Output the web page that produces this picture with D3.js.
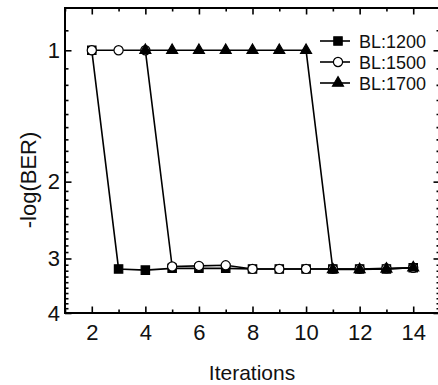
<!DOCTYPE html>
<html><head><meta charset="utf-8">
<script src="https://cdn.jsdelivr.net/npm/d3@7"></script>
<style>
html,body{margin:0;padding:0;background:#fff;}
svg{display:block;font-family:"Liberation Sans",Arial,sans-serif;}
</style></head>
<body>
<svg id="c" width="438" height="385"></svg>
<script>
const iterations = [2,3,4,5,6,7,8,9,10,11,12,13,14];
const bl1200 = [1,3.17,3.19,3.16,3.16,3.16,3.17,3.17,3.17,3.17,3.17,3.17,3.15];
const bl1500 = [1,1,1,3.13,3.12,3.11,3.17,3.17,3.17,3.17,3.17,3.16,3.15];
const iterations1700 = [4,5,6,7,8,9,10,11,12,13,14];
const bl1700 = [1,1,1,1,1,1,1,3.18,3.18,3.17,3.15];
const seriesNames = ["BL:1200","BL:1500","BL:1700"];
const xTicks = [2,4,6,8,10,12,14];
const xMinor = [1,3,5,7,9,11,13,15];
const yTicks = [1,2,3,4];
const yMinor = [0.9,1.1,1.2,1.3,1.4,1.5,1.6,1.7,1.8,1.9,2.1,2.2,2.3,2.4,2.5,2.6,2.7,2.8,2.9,3.1,3.2,3.3,3.4,3.5,3.6,3.7,3.8,3.9];
const xLabel = "Iterations", yLabel = "-log(BER)";

const svg = d3.select("#c");
const L=65, R=440, T=8, B=313;
const x = d3.scaleLinear().domain([1,15]).range([L,R]);
const y = d3.scaleLog().domain([0.8,4]).range([T,B]);

const fontTick = 22;
// minor ticks
function axisG(axis, tr){ return svg.append("g").attr("transform",tr).call(axis); }
const styleAxis = g => { g.selectAll("path.domain").attr("stroke","#000").attr("stroke-width",2);
  g.selectAll(".tick line").attr("stroke","#000").attr("stroke-width",1.6);
  g.selectAll("text").attr("font-size",fontTick).attr("fill","#111").attr("font-family","Liberation Sans, Arial, sans-serif"); };

// bottom
axisG(d3.axisBottom(x).tickValues(xMinor).tickSize(-3.5).tickFormat(""), `translate(0,${B})`).call(styleAxis);
axisG(d3.axisBottom(x).tickValues(xTicks).tickSize(-6.5).tickPadding(11).tickFormat(d3.format("d")), `translate(0,${B})`).call(styleAxis);
// top
axisG(d3.axisTop(x).tickValues(xMinor).tickSize(-3.5).tickFormat(""), `translate(0,${T})`).call(styleAxis);
axisG(d3.axisTop(x).tickValues(xTicks).tickSize(-6.5).tickFormat(""), `translate(0,${T})`).call(styleAxis);
// left
axisG(d3.axisLeft(y).tickValues(yMinor).tickSize(-3.5).tickFormat(""), `translate(${L},0)`).call(styleAxis);
axisG(d3.axisLeft(y).tickValues(yTicks).tickSize(-6.5).tickPadding(5).tickFormat(d3.format("d")), `translate(${L},0)`).call(styleAxis);
// right
axisG(d3.axisRight(y).tickValues(yMinor).tickSize(-3.5).tickFormat(""), `translate(${R},0)`).call(styleAxis);
axisG(d3.axisRight(y).tickValues(yTicks).tickSize(-6.5).tickFormat(""), `translate(${R},0)`).call(styleAxis);
svg.selectAll("path.domain").attr("d",null);
svg.append("rect").attr("x",L).attr("y",T).attr("width",R-L).attr("height",B-T)
  .attr("fill","none").attr("stroke","#000").attr("stroke-width",2);

const line = d3.line().x(d=>x(d[0])).y(d=>y(d[1]));
const sq = d3.symbol().type(d3.symbolSquare).size(70);
const ci = d3.symbol().type(d3.symbolCircle).size(66);
const tri = d3.symbol().type(d3.symbolTriangle).size(52);

const series = [
  {name:seriesNames[0], pts:iterations.map((v,i)=>[v,bl1200[i]]), sym:sq, fill:"#000"},
  {name:seriesNames[1], pts:iterations.map((v,i)=>[v,bl1500[i]]), sym:ci, fill:"#fff"},
  {name:seriesNames[2], pts:iterations1700.map((v,i)=>[v,bl1700[i]]), sym:tri, fill:"#000"}
];
series.forEach(s=>{
  svg.append("path").datum(s.pts).attr("d",line).attr("fill","none").attr("stroke","#000").attr("stroke-width",1.6);
  svg.selectAll(null).data(s.pts).join("path")
    .attr("transform",d=>`translate(${x(d[0])},${y(d[1])})`)
    .attr("d",s.sym).attr("fill",s.fill).attr("stroke","#000").attr("stroke-width",1.2);
});

// legend
const lg = svg.append("g");
series.forEach((s,i)=>{
  const yy = 41 + i*21;
  lg.append("line").attr("x1",320).attr("x2",350).attr("y1",yy).attr("y2",yy).attr("stroke","#000").attr("stroke-width",1.6);
  lg.append("path").attr("transform",`translate(338,${yy})`).attr("d",s.sym).attr("fill",s.fill).attr("stroke","#000").attr("stroke-width",1.2);
  lg.append("text").attr("x",359).attr("y",yy+6.5).attr("font-size",18).attr("fill","#111").text(s.name);
});

svg.append("text").attr("x",252).attr("y",380).attr("text-anchor","middle").attr("font-size",21).attr("fill","#111").text(xLabel);
svg.append("text").attr("transform","translate(36,180) rotate(-90)").attr("text-anchor","middle").attr("font-size",22).attr("fill","#111").text(yLabel);
</script>
</body></html>
